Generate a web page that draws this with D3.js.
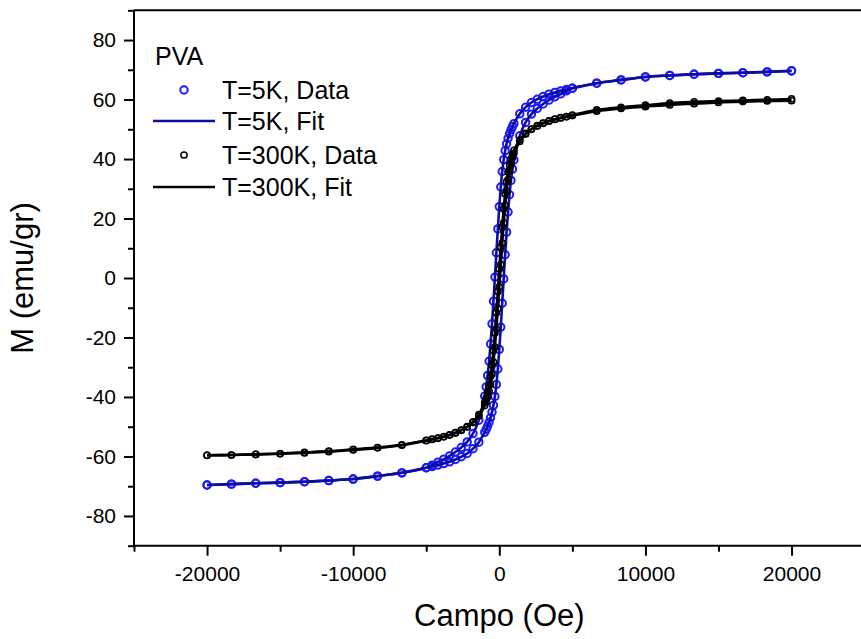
<!DOCTYPE html>
<html>
<head>
<meta charset="utf-8">
<script src="https://cdn.jsdelivr.net/npm/d3@7"></script>
<style>
  html, body { margin: 0; padding: 0; background: #fff; }
  svg { display: block; }
  text { font-family: "Liberation Sans", Arial, sans-serif; fill: #000; }
</style>
</head>
<body>
<svg id="chart" width="861" height="639"></svg>
<script>
// ---------- DATA ----------
const fieldDesc = [20000, 18333, 16667, 15000, 13333, 11667, 10000, 8333, 6667, 5000,
  4600, 4200, 3800, 3400, 3000, 2600, 2200, 1800, 1400,
  1000, 900, 800, 700, 600, 500, 400, 300, 200, 100, 0, -100, -200, -300, -400, -500, -600, -700, -800, -900, -1000,
  -1400, -1800, -2200, -2600, -3000, -3400, -3800, -4200, -4600,
  -5000, -6667, -8333, -10000, -11667, -13333, -15000, -16667, -18333, -20000];
const fieldAsc = [-20000, -18333, -16667, -15000, -13333, -11667, -10000, -8333, -6667, -5000,
  -4600, -4200, -3800, -3400, -3000, -2600, -2200, -1800, -1400,
  -1000, -900, -800, -700, -600, -500, -400, -300, -200, -100, 0, 100, 200, 300, 400, 500, 600, 700, 800, 900, 1000,
  1400, 1800, 2200, 2600, 3000, 3400, 3800, 4200, 4600,
  5000, 6667, 8333, 10000, 11667, 13333, 15000, 16667, 18333, 20000];

const m5KDesc = [69.6, 69.3, 69.0, 68.8, 68.5, 68.1, 67.6, 66.6, 65.5, 63.8,
  63.4, 62.9, 62.4, 61.8, 61.0, 60.1, 59.0, 57.4, 55.2,
  51.9, 50.9, 49.8, 48.5, 47.0, 45.1, 42.8, 39.8, 35.8, 30.6, 24.0, 16.5, 8.5, 0.3, -7.8, -15.4, -22.2, -28.0, -32.8, -36.6, -39.7,
  -47.8, -52.3, -55.1, -57.0, -58.5, -59.8, -60.9, -61.9, -62.9,
  -63.8, -65.5, -66.6, -67.6, -68.1, -68.5, -68.8, -69.0, -69.3, -69.6];
const m5KAsc = [-69.6, -69.3, -69.0, -68.8, -68.5, -68.1, -67.6, -66.6, -65.5, -63.8,
  -63.4, -62.9, -62.4, -61.8, -61.0, -60.1, -59.0, -57.4, -55.2,
  -51.9, -50.9, -49.8, -48.5, -47.0, -45.1, -42.8, -39.8, -35.8, -30.6, -24.0, -16.5, -8.5, -0.3, 7.8, 15.4, 22.2, 28.0, 32.8, 36.6, 39.7,
  47.8, 52.3, 55.1, 57.0, 58.5, 59.8, 60.9, 61.9, 62.9,
  63.8, 65.5, 66.6, 67.6, 68.1, 68.5, 68.8, 69.0, 69.3, 69.7];

const m300KDesc = [60.2, 59.9, 59.7, 59.5, 59.2, 58.8, 58.1, 57.4, 56.5, 54.8,
  54.3, 53.9, 53.4, 52.8, 52.1, 51.2, 50.1, 48.6, 46.4,
  42.9, 41.6, 40.0, 38.0, 35.6, 32.4, 28.3, 23.2, 17.1, 10.3, 3.0, -4.5, -11.7, -18.5, -24.4, -29.2, -33.1, -36.2, -38.5, -40.4, -41.9,
  -45.9, -48.4, -50.0, -51.1, -52.0, -52.7, -53.3, -53.8, -54.2,
  -54.6, -56.1, -57.0, -57.6, -58.2, -58.6, -59.0, -59.3, -59.5, -59.6];
const m300KAsc = [-59.6, -59.5, -59.3, -59.1, -58.8, -58.4, -57.8, -57.1, -56.2, -54.7,
  -54.3, -53.9, -53.4, -52.8, -52.1, -51.2, -50.1, -48.6, -46.4,
  -42.9, -41.6, -40.0, -38.0, -35.6, -32.4, -28.3, -23.2, -17.1, -10.3, -3.0, 4.5, 11.7, 18.5, 24.4, 29.2, 33.1, 36.2, 38.5, 40.4, 41.9,
  45.9, 48.4, 50.0, 51.1, 52.0, 52.7, 53.3, 53.8, 54.2,
  54.6, 56.1, 57.0, 57.6, 58.2, 58.6, 59.0, 59.3, 59.5, 59.6];

const xMajorTicks = [-20000, -10000, 0, 10000, 20000];
const xMinorTicks = [-25000, -15000, -5000, 5000, 15000, 25000];
const yMajorTicks = [-80, -60, -40, -20, 0, 20, 40, 60, 80];
const yMinorTicks = [-90, -70, -50, -30, -10, 10, 30, 50, 70, 90];

const legendTitle = "PVA";
const legendLabels = ["T=5K, Data", "T=5K, Fit", "T=300K, Data", "T=300K, Fit"];
const xTitle = "Campo (Oe)";
const yTitle = "M (emu/gr)";

// ---------- DRAW ----------
const svg = d3.select("#chart");
const x = d3.scaleLinear().domain([-25000, 25000]).range([134, 864.6]);
const y = d3.scaleLinear().domain([-90, 90]).range([545.7, 10.3]);

const BLUE_PT = "#1a1aff";
const BLUE_LN = "#0c0ca6";
const fmt = d => String(d); // plain hyphen-minus like the original

function pts(fields, ms) { return fields.map((f, i) => [f, ms[i]]); }
const blue = pts(fieldDesc, m5KDesc).concat(pts(fieldAsc, m5KAsc));
const black = pts(fieldDesc, m300KDesc).concat(pts(fieldAsc, m300KAsc));

const line = d3.line().x(d => x(d[0])).y(d => y(d[1])).curve(d3.curveCatmullRom.alpha(0.5));

const plot = svg.append("g");
// 5K data
plot.append("g").selectAll("circle").data(blue).join("circle")
  .attr("cx", d => x(d[0])).attr("cy", d => y(d[1])).attr("r", 3.7)
  .attr("fill", "none").attr("stroke", BLUE_PT).attr("stroke-width", 2);
// 5K fit
plot.append("path").datum(pts(fieldDesc, m5KDesc)).attr("d", line)
  .attr("fill", "none").attr("stroke", BLUE_LN).attr("stroke-width", 2.6);
plot.append("path").datum(pts(fieldAsc, m5KAsc)).attr("d", line)
  .attr("fill", "none").attr("stroke", BLUE_LN).attr("stroke-width", 2.6);
// 300K data
plot.append("g").selectAll("circle").data(black).join("circle")
  .attr("cx", d => x(d[0])).attr("cy", d => y(d[1])).attr("r", 3.1)
  .attr("fill", "none").attr("stroke", "#000").attr("stroke-width", 1.5);
// 300K fit
plot.append("path").datum(pts(fieldDesc, m300KDesc)).attr("d", line)
  .attr("fill", "none").attr("stroke", "#000").attr("stroke-width", 2.6);
plot.append("path").datum(pts(fieldAsc, m300KAsc)).attr("d", line)
  .attr("fill", "none").attr("stroke", "#000").attr("stroke-width", 2.6);

// Axes
const xAxis = svg.append("g").attr("transform", `translate(0,${y(-90)})`)
  .call(d3.axisBottom(x).tickValues(xMajorTicks).tickSize(10).tickPadding(10).tickFormat(fmt));
const xAxisMinor = svg.append("g").attr("transform", `translate(0,${y(-90)})`)
  .call(d3.axisBottom(x).tickValues(xMinorTicks).tickSize(6).tickFormat(""));
const yAxis = svg.append("g").attr("transform", `translate(${x(-25000)},0)`)
  .call(d3.axisLeft(y).tickValues(yMajorTicks).tickSize(10).tickPadding(8).tickFormat(fmt));
const yAxisMinor = svg.append("g").attr("transform", `translate(${x(-25000)},0)`)
  .call(d3.axisLeft(y).tickValues(yMinorTicks).tickSize(6).tickFormat(""));
[xAxis, xAxisMinor, yAxis, yAxisMinor].forEach(g => {
  g.select(".domain").attr("stroke", "#000").attr("stroke-width", 2);
  g.selectAll(".tick line").attr("stroke", "#000").attr("stroke-width", 2);
  g.selectAll(".tick text").style("font-size", "21px").style("font-family", '"Liberation Sans", Arial, sans-serif');
});
xAxisMinor.select(".domain").remove();
yAxisMinor.select(".domain").remove();
xAxis.select(".domain").attr("d", `M${x(-25000)},0H${x(25000)}`);
yAxis.select(".domain").attr("d", `M0,${y(-90)}V${y(90)}`);
// top frame line
svg.append("line").attr("x1", x(-25000)).attr("x2", x(25000)).attr("y1", y(90)).attr("y2", y(90))
  .attr("stroke", "#000").attr("stroke-width", 2);

// Axis titles
svg.append("text").attr("x", x(0)).attr("y", 626).attr("text-anchor", "middle")
  .style("font-size", "31px").text(xTitle);
svg.append("text").attr("transform", `translate(33,${y(0)}) rotate(-90)`).attr("text-anchor", "middle")
  .style("font-size", "31px").text(yTitle);

// Legend
const lg = svg.append("g");
lg.append("text").attr("x", 155).attr("y", 65).style("font-size", "25px").text(legendTitle);
const rowY = [90, 121, 155, 187];
legendLabels.forEach((lab, i) => {
  lg.append("text").attr("x", 222).attr("y", rowY[i] + 8.5).style("font-size", "25px").text(lab);
});
lg.append("circle").attr("cx", 184).attr("cy", rowY[0]).attr("r", 3.7)
  .attr("fill", "none").attr("stroke", BLUE_PT).attr("stroke-width", 2);
lg.append("line").attr("x1", 153).attr("x2", 215).attr("y1", rowY[1]).attr("y2", rowY[1])
  .attr("stroke", BLUE_LN).attr("stroke-width", 2.6);
lg.append("circle").attr("cx", 184).attr("cy", rowY[2]).attr("r", 3.1)
  .attr("fill", "none").attr("stroke", "#000").attr("stroke-width", 1.5);
lg.append("line").attr("x1", 153).attr("x2", 215).attr("y1", rowY[3]).attr("y2", rowY[3])
  .attr("stroke", "#000").attr("stroke-width", 2.6);
</script>
</body>
</html>
